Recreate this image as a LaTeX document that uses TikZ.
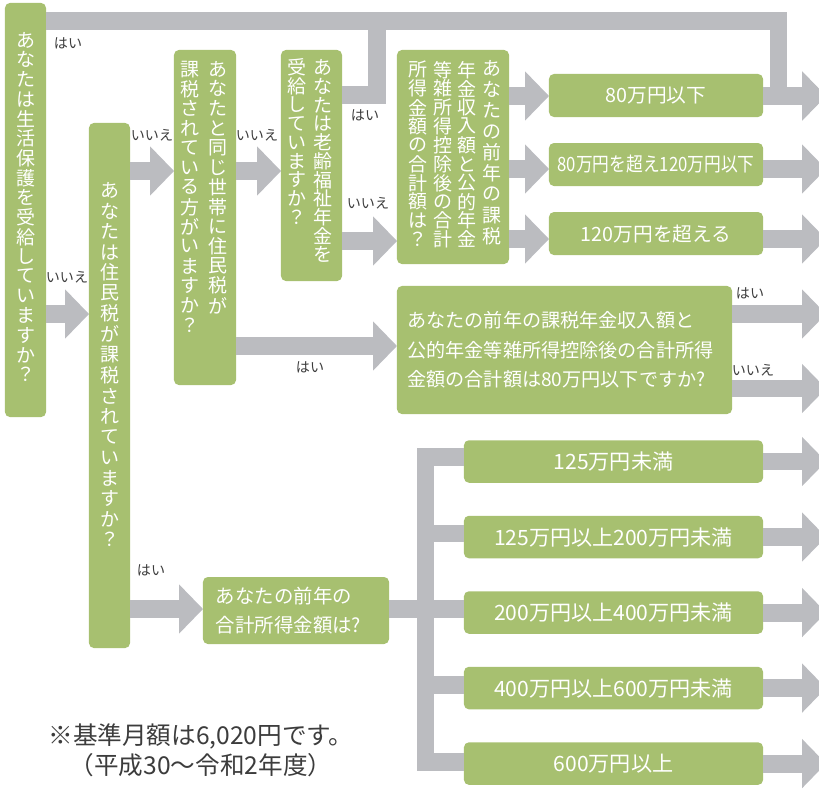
\documentclass[tikz,border=0pt]{standalone}
\usepackage{fontspec}
\setmainfont{Noto Sans CJK JP}
\usepackage{graphicx}
\usetikzlibrary{arrows.meta,chains,positioning}

\definecolor{boxgreen}{RGB}{167,192,112}
\definecolor{arrowgray}{RGB}{187,188,192}
\definecolor{labelgray}{RGB}{60,60,60}

\begin{document}
\begin{tikzpicture}[x=0.025cm, y=-0.025cm]
\useasboundingbox (0,0) rectangle (819,789);

\tikzstyle{qbox}=[fill=boxgreen, rounded corners=3.5pt, inner sep=0pt, outer sep=0pt, text=white]
\tikzstyle{tatetext}=[text=white, inner sep=0pt, anchor=north, font=\fontsize{13.5}{14}\selectfont]
\tikzstyle{gline}=[draw=arrowgray, line width=12.76pt]
\tikzstyle{garrow}=[gline, -{Triangle[length=17pt, width=35pt, line width=0pt]}]
\tikzstyle{ans}=[text=labelgray, inner sep=0pt, font=\fontsize{10}{10}\selectfont]

% vertical writing: one character per cell, columns go top to bottom
\newcommand\tate[2][14pt]{\vtop{\offinterlineskip\def\tatepitch{#1}\tateloop#2\relax}}
\def\tateloop#1{\ifx#1\relax\else\hbox to 1em{\hss\vbox to \tatepitch{\vss\hbox{#1}\vss}\hss}\expandafter\tateloop\fi}

%% Question boxes (vertical)
\node[qbox, minimum width=1.025cm, minimum height=10.35cm] (q0) at (25.5,210) {};
\node[tatetext] (t0) at (25.5,30) {\tate{あなたは生活保護を受給していますか？}};

\node[qbox, minimum width=1.025cm, minimum height=13.125cm] (q1) at (109.5,385.5) {};
\node[tatetext] (t1) at (110,180) {\tate[14.6pt]{あなたは住民税が課税されていますか？}};

\node[qbox, minimum width=1.55cm, minimum height=8.375cm] (q2) at (205,217.5) {};
\node[tatetext] (t2) at (204,59) {\tate{課税されている方がいますか？}\hspace{6.3pt}\tate{あなたと同じ世帯に住民税が}};

\node[qbox, minimum width=1.525cm, minimum height=5.775cm] (q3) at (311.5,165.5) {};
\node[tatetext] (t3) at (310,58) {\tate[13.3pt]{受給していますか？}\hspace{5pt}\tate[13.3pt]{あなたは老齢福祉年金を}};

\node[qbox, minimum width=2.8cm, minimum height=5.35cm] (q4) at (453,157) {};
\node[tatetext] (t4) at (455,58) {\tate[13.4pt]{所得金額の合計額は？}\hspace{4pt}\tate[13.4pt]{等雑所得控除後の合計}\hspace{4pt}\tate[13.4pt]{年金収入額と公的年金}\hspace{4pt}\tate[14.9pt]{あなたの前年の課税}};

%% Question boxes (horizontal)
\node[qbox, minimum width=8.375cm, minimum height=3.2cm, text width=7.85cm, align=left,
      font=\fontsize{13.6}{20.9}\selectfont] (q5) at (564.5,350)
      {あなたの前年の課税年金収入額と\\公的年金等雑所得控除後の合計所得\\金額の合計額は80万円以下ですか?};
\node[qbox, minimum width=4.65cm, minimum height=1.675cm, text width=4cm, align=left,
      font=\fontsize{13.8}{20.5}\selectfont] (q6) at (296,610.5)
      {あなたの前年の\\合計所得金額は?};

%% Pension amounts
\begin{scope}[start chain=1 going below, node distance=0.65cm]
    \node [on chain=1, qbox, minimum width=5.35cm, minimum height=1.075cm, font=\fontsize{14}{14}\selectfont] (r1) at (656,95.5) {80万円以下};
    \node [on chain=1, qbox, minimum width=5.35cm, minimum height=1.075cm, font=\fontsize{14}{14}\selectfont] (r2) {\scalebox{0.85}[1]{80万円を超え120万円以下}};
    \node [on chain=1, qbox, minimum width=5.35cm, minimum height=1.075cm, font=\fontsize{14}{14}\selectfont] (r3) {120万円を超える};
\end{scope}

%% Income brackets
\begin{scope}[start chain=2 going below, node distance=0.825cm]
    \node [on chain=2, qbox, minimum width=7.475cm, minimum height=1.0625cm, font=\fontsize{15}{15}\selectfont] (s1) at (613.5,461.5) {125万円未満};
    \node [on chain=2, qbox, minimum width=7.475cm, minimum height=1.0625cm, font=\fontsize{15}{15}\selectfont] (s2) {125万円以上200万円未満};
    \node [on chain=2, qbox, minimum width=7.475cm, minimum height=1.0625cm, font=\fontsize{15}{15}\selectfont] (s3) {200万円以上400万円未満};
    \node [on chain=2, qbox, minimum width=7.475cm, minimum height=1.0625cm, font=\fontsize{15}{15}\selectfont] (s4) {400万円以上600万円未満};
    \node [on chain=2, qbox, minimum width=7.475cm, minimum height=1.0625cm, font=\fontsize{15}{15}\selectfont] (s5) {600万円以上};
\end{scope}

%% Connectors
\coordinate (barR) at (778.5,21);
\coordinate (barD) at (377,21);
\coordinate (edge) at (826,0);
\coordinate (trunkT) at (425.5,457);
\coordinate (trunkB) at (425.5,762);

\draw[garrow] (q0.east |- barR) -- (barR) -- (barR |- 0,96) -- (edge |- 0,96);
\draw[gline] (q3.east |- 0,95) -| (barD);

\draw[garrow] (q0.east |- 0,314) -- (q1.west |- 0,314);
\draw[garrow] (q1.east |- 0,171) -- (q2.west |- 0,171);
\draw[garrow] (q2.east |- 0,171) -- (q3.west |- 0,171);
\draw[garrow] (q3.east |- 0,241) -- (q4.west |- 0,241);
\draw[garrow] (q2.east |- 0,346) -- (q5.west |- 0,346);
\draw[garrow] (q1.east |- 0,609) -- (q6.west |- 0,609);

\draw[garrow] (q4.east |- 0,96) -- (r1.west |- 0,96);
\draw[garrow] (q4.east |- 0,169) -- (r2.west |- 0,169);
\draw[garrow] (q4.east |- 0,239) -- (r3.west |- 0,239);

\draw[garrow] (r1.east |- 0,96) -- (edge |- 0,96);
\draw[garrow] (r2.east |- 0,169) -- (edge |- 0,169);
\draw[garrow] (r3.east |- 0,239) -- (edge |- 0,239);
\draw[garrow] (q5.east |- 0,314) -- (edge |- 0,314);
\draw[garrow] (q5.east |- 0,388.5) -- (edge |- 0,388.5);

\draw[gline] (s1.west |- trunkT) -- (trunkT) -- (trunkB) -- (s5.west |- trunkB);
\draw[gline] (trunkT |- 0,533.5) -- (s2.west |- 0,533.5);
\draw[gline] (q6.east |- 0,609) -- (s3.west |- 0,609);
\draw[gline] (trunkT |- 0,685) -- (s4.west |- 0,685);

\draw[garrow] (s1.east) -- (s1.east -| edge);
\draw[garrow] (s2.east) -- (s2.east -| edge);
\draw[garrow] (s3.east) -- (s3.east -| edge);
\draw[garrow] (s4.east) -- (s4.east -| edge);
\draw[garrow] (s5.east) -- (s5.east -| edge);

%% Answers
\node[ans] (a0) at (68,43) {はい};
\node[ans] (a1) at (67,277) {いいえ};
\node[ans] (a2) at (152,135) {いいえ};
\node[ans] (a3) at (257,135) {いいえ};
\node[ans] (a4) at (365,115) {はい};
\node[ans] (a5) at (368,203) {いいえ};
\node[ans] (a6) at (310,367) {はい};
\node[ans] (a7) at (750,293) {はい};
\node[ans] (a8) at (753,370) {いいえ};
\node[ans] (a9) at (151,570) {はい};

%% Note
\node[text=labelgray, align=center, font=\fontsize{17.5}{21.5}\selectfont] (note) at (201,750)
     {※基準月額は6,020円です。\\（平成30～令和2年度）};

\end{tikzpicture}
\end{document}
